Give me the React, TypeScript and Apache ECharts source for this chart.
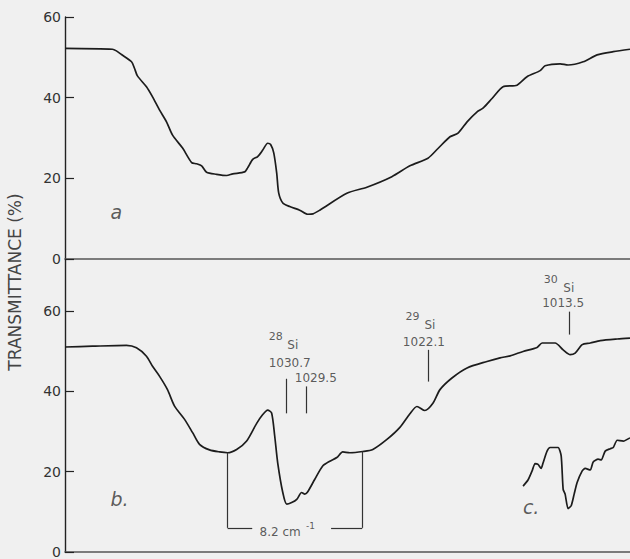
import React, { useEffect, useRef } from "react";
import * as echarts from "echarts";

// Spectrum a (upper panel): wavenumber (cm-1) vs transmittance (%)
const curveAWavenumber = [
  1044.2, 1041.31, 1041.07, 1040.76, 1040.15, 1039.97, 1039.79, 1039.24, 1038.87, 1038.44,
  1038.02, 1037.65, 1037.04, 1036.49, 1036.19, 1035.88, 1035.58, 1034.97, 1034.36, 1033.99,
  1033.26, 1033.08, 1032.77, 1032.47, 1032.16, 1031.86, 1031.68, 1031.49, 1031.31, 1031.19,
  1030.94, 1030.52, 1029.91, 1029.42, 1029.1, 1028.69, 1027.04, 1025.82, 1024.3, 1023.2,
  1022.1, 1021.49, 1020.76, 1020.27, 1019.72, 1019.11, 1018.75, 1018.2, 1017.53, 1016.68,
  1016.07, 1015.27, 1014.97, 1014.05, 1013.57, 1012.65, 1011.8, 1010.82, 1009.8,
];
const curveATransmittance = [
  52.2, 52.0, 51.6, 50.7, 48.9, 47.3, 45.4, 42.7, 40.2, 36.9,
  34.0, 30.7, 27.5, 23.9, 23.6, 23.1, 21.5, 21.0, 20.7, 21.1,
  21.6, 22.6, 24.7, 25.4, 27.0, 28.7, 28.4, 26.3, 21.3, 16.4,
  13.9, 13.0, 12.1, 11.1, 11.2, 12.1, 16.3, 17.8, 20.4, 23.1,
  25.0, 27.4, 30.3, 31.2, 34.0, 36.5, 37.4, 39.8, 42.7, 43.1,
  45.2, 46.7, 47.9, 48.4, 48.1, 48.9, 50.6, 51.4, 52.0,
];

// Spectrum b (lower panel)
const curveBWavenumber = [
  1044.2, 1042.53, 1040.46, 1039.85, 1039.24, 1038.87, 1038.44, 1037.96, 1037.53, 1036.92,
  1036.43, 1036.01, 1035.4, 1034.79, 1034.3, 1033.75, 1033.14, 1032.53, 1032.16, 1031.86,
  1031.62, 1031.43, 1031.25, 1030.94, 1030.7, 1030.4, 1030.09, 1029.79, 1029.6, 1029.42,
  1028.99, 1028.51, 1028.08, 1027.65, 1027.29, 1026.86, 1026.07, 1025.46, 1024.6, 1023.81,
  1023.2, 1022.77, 1022.29, 1021.8, 1021.37, 1020.64, 1019.72, 1018.51, 1017.71, 1017.1,
  1016.31, 1015.46, 1015.15, 1014.36, 1013.87, 1013.44, 1013.14, 1012.71, 1012.22, 1011.61,
  1010.58, 1009.8,
];
const curveBTransmittance = [
  51.0, 51.2, 51.4, 50.8, 48.7, 46.2, 43.7, 40.4, 36.3, 33.0,
  29.7, 26.8, 25.4, 24.9, 24.7, 25.5, 27.6, 32.0, 34.2, 35.3,
  34.6, 28.8, 22.2, 14.8, 11.9, 12.3, 13.1, 14.8, 14.4, 15.0,
  18.1, 21.4, 22.6, 23.5, 24.9, 24.7, 25.0, 25.5, 28.0, 31.0,
  34.4, 36.2, 35.2, 37.0, 40.4, 43.3, 45.8, 47.4, 48.3, 48.8,
  49.9, 50.9, 52.0, 52.0, 50.3, 49.1, 49.5, 51.6, 52.0, 52.6,
  53.0, 53.2,
];

// Inset c (lower right)
const curveCWavenumber = [
  1016.31, 1016.01, 1015.76, 1015.58, 1015.4, 1015.21, 1015.09, 1014.85, 1014.66, 1014.18,
  1013.99, 1013.87, 1013.75, 1013.57, 1013.38, 1013.2, 1013.02, 1012.71, 1012.53, 1012.22,
  1012.04, 1011.74, 1011.55, 1011.31, 1011.0, 1010.82, 1010.58, 1010.21, 1009.8,
];
const curveCTransmittance = [
  16.4, 17.9, 20.2, 22.0, 21.8, 20.8, 22.2, 25.1, 26.0, 26.0,
  23.9, 15.6, 14.4, 10.8, 11.5, 14.4, 17.3, 20.2, 20.8, 20.4,
  22.4, 23.1, 22.9, 25.1, 25.7, 26.0, 27.8, 27.6, 28.4,
];

const yTickValues = [0, 20, 40, 60];
const bandWavenumbers = [1030.7, 1029.5, 1022.1, 1013.5];
const bandLabels = ["1030.7", "1029.5", "1022.1", "1013.5"];
const bandIsotopes = ["28", "", "29", "30"];
const elementSymbol = "Si";
const splittingEdges = [1034.3, 1026.1];
const splittingText = "8.2 cm";
const splittingExponent = "-1";
const panelLetters = ["a", "b.", "c."];
const yTitle = "TRANSMITTANCE (%)";

const FONT = "DejaVu Sans";
const INK = "#1c1c1c";
const TEXT = "#333";

function pairs(xs: number[], ys: number[]) {
  return xs.map((x, i) => [x, ys[i]]);
}

export default function App() {
  const ref = useRef<HTMLDivElement>(null);
  useEffect(() => {
    if (!ref.current) return;
    const chart = echarts.init(ref.current, null, { renderer: "svg" });

    const xAxisBase = {
      type: "value" as const,
      min: 1009.8,
      max: 1044.2,
      inverse: true,
      axisLine: { show: true, onZero: false, lineStyle: { color: "#555", width: 1.6 } },
      axisTick: { show: false },
      axisLabel: { show: false },
      splitLine: { show: false },
    };
    const yAxisBase = {
      type: "value" as const,
      min: 0,
      axisLine: { show: true, lineStyle: { color: "#222", width: 1.4 } },
      axisTick: { show: true, inside: true, length: 9, lineStyle: { color: "#222", width: 1.2 }, customValues: yTickValues },
      axisLabel: { show: true, fontSize: 14, color: TEXT, fontFamily: FONT, margin: 4, customValues: yTickValues },
      splitLine: { show: false },
    };

    const lineSeries = (name: string, data: number[][], idx: number, extra: any = {}) => ({
      name,
      type: "line",
      xAxisIndex: idx,
      yAxisIndex: idx,
      data,
      showSymbol: false,
      smooth: 0.25,
      silent: true,
      lineStyle: { color: INK, width: 1.7 },
      ...extra,
    });

    // marker line tops/bottoms (layout)
    const markerTop = [43.1, 41.2, 50.3, 59.8];
    const markerBottom = [34.5, 34.5, 42.4, 54.1];
    const bandMarkLines = bandWavenumbers.map((w, i) => [
      { coord: [w, markerTop[i]] },
      { coord: [w, markerBottom[i]] },
    ]);
    const bracketY = 6;
    const bracketLines = [
      [{ coord: [splittingEdges[0], 24.7] }, { coord: [splittingEdges[0], bracketY] }],
      [{ coord: [splittingEdges[0], bracketY] }, { coord: [1032.8, bracketY] }],
      [{ coord: [1028.0, bracketY] }, { coord: [splittingEdges[1], bracketY] }],
      [{ coord: [splittingEdges[1], bracketY] }, { coord: [splittingEdges[1], 25.0] }],
    ];

    // label anchor positions (layout)
    const supPos = [[1031.37, 53.6], null, [1023.05, 58.5], [1014.63, 67.7]];
    const symPos = [[1030.33, 51.6], null, [1021.98, 56.5], [1013.53, 65.7]];
    const numPos = [
      [1030.52, 47.1],
      [1028.93, 43.4],
      [1022.35, 52.3],
      [1013.87, 62.0],
    ];
    const rich = {
      s: { fontSize: 11, color: TEXT, fontFamily: FONT },
      b: { fontSize: 12, color: TEXT, fontFamily: FONT },
      n: { fontSize: 12, color: TEXT, fontFamily: FONT },
      u: { fontSize: 9, color: TEXT, fontFamily: FONT },
      l: { fontSize: 19, fontStyle: "italic", color: TEXT, fontFamily: FONT, fontWeight: 300 },
    };
    const textItem = (pos: number[], text: string) => ({
      value: pos,
      label: { formatter: text },
    });
    const bottomTexts: any[] = [];
    bandWavenumbers.forEach((_, i) => {
      if (bandIsotopes[i] && supPos[i] && symPos[i]) {
        bottomTexts.push(textItem(supPos[i] as number[], `{s|${bandIsotopes[i]}}`));
        bottomTexts.push(textItem(symPos[i] as number[], `{b|${elementSymbol}}`));
      }
      bottomTexts.push(textItem(numPos[i], `{n|${bandLabels[i]}}`));
    });
    bottomTexts.push(textItem([1031.1, 5.0], `{n|${splittingText}}`));
    bottomTexts.push(textItem([1029.25, 6.5], `{u|${splittingExponent}}`));
    bottomTexts.push(textItem([1040.88, 13.1], `{l|${panelLetters[1]}}`));
    bottomTexts.push(textItem([1015.82, 11.2], `{l|${panelLetters[2]}}`));
    const topTexts = [textItem([1041.07, 11.65], `{l|${panelLetters[0]}}`)];

    const textSeries = (data: any[], idx: number) => ({
      type: "scatter",
      xAxisIndex: idx,
      yAxisIndex: idx,
      data,
      symbol: "circle",
      symbolSize: 1,
      silent: true,
      itemStyle: { color: "rgba(0,0,0,0)" },
      label: { show: true, position: "inside", align: "center", verticalAlign: "middle", rich },
      emphasis: { disabled: true },
      z: 5,
    });

    chart.setOption({
      animation: false,
      backgroundColor: "#f0f0f0",
      grid: [
        { left: 65, right: 0, top: 17, height: 242 },
        { left: 65, right: 0, top: 259, height: 294 },
      ],
      xAxis: [
        { ...xAxisBase, gridIndex: 0 },
        { ...xAxisBase, gridIndex: 1 },
      ],
      yAxis: [
        { ...yAxisBase, gridIndex: 0, max: 60, interval: 20 },
        { ...yAxisBase, gridIndex: 1, max: 72.9, interval: 20 },
      ],
      graphic: [
        {
          type: "text",
          x: 15,
          y: 282,
          rotation: Math.PI / 2,
          style: {
            text: yTitle,
            fontSize: 17,
            fill: "#444",
            fontFamily: FONT,
            align: "center",
            verticalAlign: "middle",
          },
        },
      ],
      series: [
        lineSeries("a", pairs(curveAWavenumber, curveATransmittance), 0),
        lineSeries("b", pairs(curveBWavenumber, curveBTransmittance), 1, {
          markLine: {
            silent: true,
            symbol: ["none", "none"],
            label: { show: false },
            lineStyle: { color: "#333", width: 1.2, type: "solid" },
            emphasis: { disabled: true },
            data: [...bandMarkLines, ...bracketLines],
          },
        }),
        lineSeries("c", pairs(curveCWavenumber, curveCTransmittance), 1, { smooth: 0.2 }),
        textSeries(topTexts, 0),
        textSeries(bottomTexts, 1),
      ],
    });
    return () => chart.dispose();
  }, []);
  return (
    <div
      ref={ref}
      style={{ position: "fixed", left: 0, top: 0, width: 630, height: 559 }}
    />
  );
}
